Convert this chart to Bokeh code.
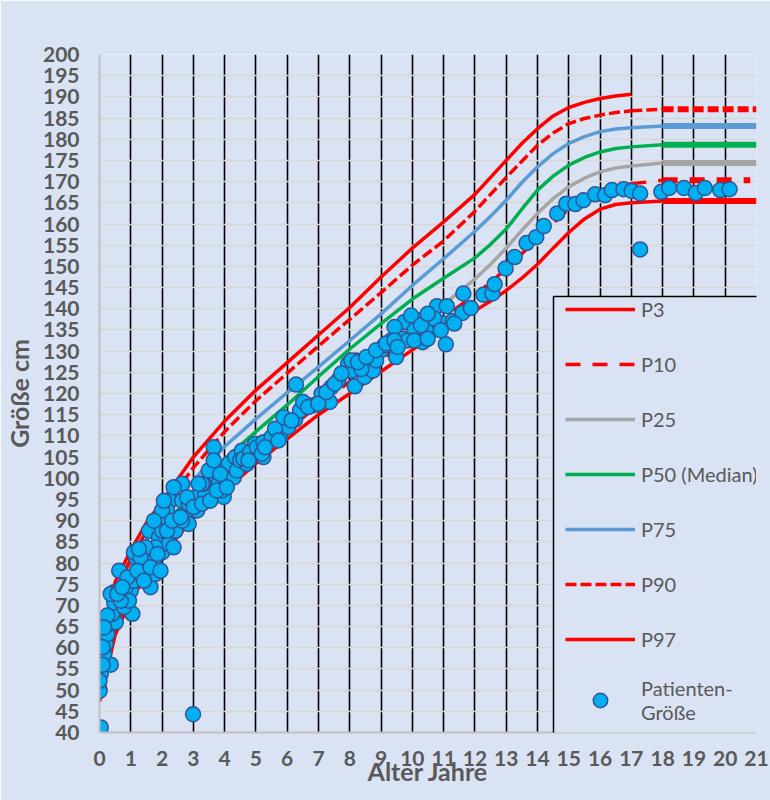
from bokeh.plotting import figure
from bokeh.models import Legend, LegendItem, FixedTicker, Range1d, BoxAnnotation
from bokeh.embed import file_html
from bokeh.resources import INLINE

# ---------------- data ----------------
ages = [0, 0.5, 1, 1.5, 2, 3, 4, 5, 6, 7, 8, 9, 10, 11, 12, 12.5, 13, 13.5, 14, 14.5, 15, 15.5, 16, 16.5, 17]
p3 = [47.3, 63.0, 71.3, 77.0, 82.0, 90.5, 97.0, 103.5, 109.3, 115.0, 120.0, 125.2, 130.3, 135.0, 139.5, 141.8, 144.3, 147.2, 150.5, 154.3, 158.0, 161.2, 163.5, 164.6, 165.0]
p10 = [48.7, 64.5, 73.0, 79.0, 84.0, 92.5, 99.3, 105.5, 111.3, 117.3, 122.8, 128.0, 133.2, 138.0, 143.3, 146.2, 149.5, 153.0, 156.5, 160.2, 163.5, 166.0, 167.8, 168.8, 169.5]
p25 = [50.0, 66.0, 75.0, 81.0, 86.0, 94.5, 101.5, 107.5, 113.5, 119.8, 125.5, 131.0, 136.3, 141.0, 147.0, 150.5, 154.3, 158.5, 162.5, 166.0, 168.8, 170.8, 172.3, 173.2, 173.7]
p50 = [51.5, 68.0, 77.0, 83.0, 88.0, 97.0, 104.5, 111.0, 117.3, 124.0, 130.5, 136.5, 142.3, 147.2, 152.0, 155.2, 158.8, 163.5, 168.0, 171.3, 173.9, 175.7, 177.0, 177.8, 178.2]
p75 = [53.0, 70.5, 79.0, 85.3, 90.5, 99.5, 107.5, 114.0, 120.2, 126.3, 132.5, 138.8, 145.5, 151.8, 158.3, 161.8, 165.6, 169.8, 173.5, 176.6, 179.0, 180.6, 181.8, 182.4, 182.7]
p90 = [54.5, 73.0, 81.0, 87.5, 92.5, 102.5, 111.0, 118.3, 124.8, 131.2, 137.5, 143.8, 150.3, 156.0, 163.0, 167.0, 171.0, 174.8, 178.6, 181.5, 183.7, 184.9, 185.7, 186.3, 186.7]
p97 = [56.0, 75.5, 83.0, 89.5, 94.5, 105.0, 113.5, 120.8, 127.3, 133.8, 140.3, 147.5, 154.3, 160.5, 167.0, 171.0, 175.0, 179.0, 182.5, 185.5, 187.5, 188.7, 189.6, 190.2, 190.6]

# adult values (18-21 years)
adult_ages = [18, 21]
adult_ages_p10 = [18, 20.8]
adult = {"P3": 165.4, "P10": 170.3, "P25": 174.4, "P50": 178.7, "P75": 183.1, "P90": 187.1}

pt_age = [0.04, 2.99, 0.0, 0.04, 0.1, 0.36, 0.15, 0.2, 0.25, 0.31, 0.52, 0.41, 0.25, 0.47, 0.47,
          0.63, 1.0, 1.05, 0.84, 1.1, 0.78, 0.94, 1.16, 1.1, 1.31, 1.47, 1.58, 1.63, 1.58, 1.74,
          1.79, 1.9, 2.0, 2.06, 2.21, 2.37, 2.27, 2.16, 2.43, 2.64, 2.8, 2.85, 3.12, 3.38, 3.65,
          3.6, 3.86, 4.13, 3.97, 4.29, 4.6, 4.87, 5.13, 3.12, 3.33, 2.64, 2.43, 2.0, 1.79, 1.47,
          1.31, 0.68, 0.89, 0.1, 0.0, 3.28, 3.49, 3.81, 4.13, 4.34, 4.55, 4.97, 2.85, 2.21, 2.0,
          2.64, 3.91,
          0.0, 0.1, 0.15, 0.36, 0.57, 0.73, 1.21, 1.42, 1.63, 1.85, 1.95, 2.16, 2.32, 2.59, 2.8,
          3.01, 3.28, 3.54, 3.75, 4.07, 4.39, 4.5, 4.71, 5.03, 5.24, 3.65, 3.86, 3.17, 2.37, 2.06,
          1.74, 1.26,
          6.28, 4.6, 4.81, 5.03, 5.24, 5.5, 5.77, 6.04, 6.25, 6.41, 6.51, 6.83, 7.1, 7.36, 7.41,
          7.63, 7.95, 8.16, 8.2, 8.47, 8.74, 8.69, 9.0, 9.27, 9.32, 9.48, 9.69, 9.75, 10.17,
          10.07, 10.33, 10.65, 10.97, 11.29, 11.6, 11.87, 10.79, 11.1, 11.07, 11.63, 5.19, 5.61,
          5.88, 8.05, 8.37, 8.84, 9.11, 9.85, 10.44, 10.7, 9.96, 9.43,
          4.76, 5.29, 5.72, 6.14, 6.67, 6.99, 7.25, 7.52, 7.73, 8.05, 8.26, 8.53, 8.84, 9.16,
          9.43, 9.53, 10.06, 10.49, 10.28, 10.91, 11.34, 10.49,
          12.27, 12.56, 12.63, 12.98, 13.27, 13.65, 13.96, 14.2, 14.63, 14.92, 15.21, 15.47,
          15.84, 16.16, 16.38, 16.75, 17.01, 17.28, 17.28, 17.96, 18.21, 18.68, 19.06, 19.35,
          19.84, 20.14]
pt_height = [41.2, 44.3, 50.2, 53.8, 56.1, 56.0, 58.5, 60.9, 63.2, 65.6, 66.0, 68.0, 67.6, 70.7, 73.1,
             78.2, 73.5, 68.0, 74.3, 75.8, 69.6, 71.1, 81.3, 82.5, 77.4, 79.8, 81.7, 74.3, 87.6, 80.6,
             77.4, 86.1, 82.5, 90.0, 84.5, 83.7, 94.7, 92.4, 90.0, 98.7, 92.4, 89.2, 95.6, 96.3, 107.3,
             99.1, 98.7, 103.4, 95.6, 100.2, 104.6, 105.8, 108.1, 92.4, 98.7, 94.7, 87.6, 87.6, 83.7, 83.7,
             81.3, 71.1, 76.6, 56.0, 49.8, 98.7, 101.8, 98.7, 103.4, 105.0, 106.5, 108.1, 94.0, 90.0, 92.4,
             90.0, 97.1,
             52.2, 60.1, 64.8, 72.7, 72.7, 74.3, 78.2, 75.8, 79.0, 82.1, 78.2, 87.6, 90.0, 90.8, 95.5,
             93.2, 94.0, 94.7, 97.1, 97.9, 101.8, 104.2, 103.4, 105.8, 105.0, 104.2, 101.0, 98.7, 97.9, 94.7,
             90.0, 83.3,
             122.1, 104.6, 106.1, 107.3, 108.5, 109.7, 109.7, 112.1, 113.8, 116.0, 118.0, 117.2, 119.9, 118.0, 121.5,
             123.1, 127.0, 121.7, 127.8, 123.9, 125.4, 128.6, 130.2, 131.4, 132.5, 128.6, 132.9, 136.9, 137.3,
             134.9, 132.1, 135.3, 136.5, 137.1, 139.0, 140.2, 140.6, 140.6, 131.6, 143.6, 105.8, 111.7,
             114.4, 125.4, 125.8, 127.8, 131.4, 132.5, 134.9, 137.7, 138.4, 135.7,
             104.2, 107.3, 108.9, 113.6, 116.8, 117.6, 120.3, 122.3, 124.7, 127.8, 127.4, 128.6, 130.2, 131.8,
             132.5, 131.0, 132.5, 132.9, 136.1, 134.9, 136.5, 138.8,
             143.3, 143.6, 145.8, 149.5, 152.2, 155.5, 156.9, 159.5, 162.5, 164.8, 164.7, 165.6,
             167.0, 166.8, 168.0, 168.2, 167.8, 167.2, 154.0, 167.6, 168.5, 168.5, 167.3, 168.5,
             168.0, 168.2]

x_ticks = list(range(0, 22))
y_ticks = list(range(40, 201, 5))

# ---------------- style ----------------
BG = "#dae3f3"
TXT = "#595959"
FONT = "Lato"
RED = "#ff0000"
GRAY = "#a5a5a5"
GREEN = "#00b050"
BLUE = "#5b9bd5"
LW = 3.5
LW_ADULT = 6

p = figure(width=770, height=800, x_range=Range1d(0, 21), y_range=Range1d(40, 200),
           output_backend="svg", toolbar_location=None,
           min_border_left=97, min_border_right=14, min_border_top=54, min_border_bottom=68,
           background_fill_color=BG, border_fill_color=BG, outline_line_color=None)

# grids
p.xgrid.ticker = FixedTicker(ticks=x_ticks[1:])
p.xgrid.grid_line_color = "black"
p.xgrid.grid_line_width = 1.6
p.ygrid.ticker = FixedTicker(ticks=y_ticks)
p.ygrid.grid_line_color = "#d6d6d6"
p.ygrid.grid_line_width = 1.6

# axes
for ax in (p.xaxis[0], p.yaxis[0]):
    ax.axis_line_color = "#bfbfbf"
    ax.axis_line_width = 2
    ax.major_tick_line_color = None
    ax.minor_tick_line_color = None
    ax.major_tick_out = 0
    ax.major_tick_in = 0
    ax.minor_tick_out = 0
    ax.major_label_text_font = FONT
    ax.major_label_text_font_style = "bold"
    ax.major_label_text_font_size = "21px"
    ax.major_label_text_color = TXT
    ax.axis_label_text_font = FONT
    ax.axis_label_text_font_style = "bold"
    ax.axis_label_text_color = TXT

p.xaxis.ticker = FixedTicker(ticks=x_ticks)
p.yaxis.ticker = FixedTicker(ticks=y_ticks)
p.yaxis.major_label_standoff = 20
p.xaxis.major_label_standoff = 18
p.yaxis.axis_label = "Größe cm"
p.yaxis.axis_label_text_font_size = "25px"
p.yaxis.axis_label_standoff = 6
p.xaxis.axis_label = "Alter Jahre"
p.xaxis.axis_label_text_font_size = "25px"
p.xaxis.axis_label_standoff = -13

# percentile curves
r3 = p.line(ages, p3, line_color=RED, line_width=LW)
r10 = p.line(ages, p10, line_color=RED, line_width=LW, line_dash="15 12")
r25 = p.line(ages, p25, line_color=GRAY, line_width=LW)
r50 = p.line(ages, p50, line_color=GREEN, line_width=LW)
r75 = p.line(ages, p75, line_color=BLUE, line_width=LW)
r90 = p.line(ages, p90, line_color=RED, line_width=LW, line_dash="11 4")
r97 = p.line(ages, p97, line_color=RED, line_width=LW)

# transition 17 -> 18 and adult segments 18 -> 21
curves = [("P3", p3, RED, "solid", adult_ages), ("P10", p10, RED, "15 12", adult_ages_p10),
          ("P25", p25, GRAY, "solid", adult_ages), ("P50", p50, GREEN, "solid", adult_ages),
          ("P75", p75, BLUE, "solid", adult_ages), ("P90", p90, RED, "11 4", adult_ages)]
for name, vals, col, dash, aa in curves:
    a = adult[name]
    p.line([ages[-1], aa[0]], [vals[-1], a], line_color=col, line_width=LW, line_dash=dash)
    p.line(aa, [a, a], line_color=col, line_width=LW_ADULT, line_dash=dash)

# patient points
rpts = p.scatter(pt_age, pt_height, marker="circle", size=15, fill_color="#00b0f0",
                 line_color="#2f5597", line_width=1.5)

# legend frame (canvas pixels)
box = BoxAnnotation(left=553, right=800, top=296, bottom=738,
                    left_units="canvas", right_units="canvas", top_units="canvas", bottom_units="canvas",
                    fill_color=BG, fill_alpha=1.0, line_color="black", line_width=1.5, line_alpha=1.0)
p.add_layout(box)

legend = Legend(items=[
    LegendItem(label="P3", renderers=[r3]),
    LegendItem(label="P10", renderers=[r10]),
    LegendItem(label="P25", renderers=[r25]),
    LegendItem(label="P50 (Median)", renderers=[r50]),
    LegendItem(label="P75", renderers=[r75]),
    LegendItem(label="P90", renderers=[r90]),
    LegendItem(label="P97", renderers=[r97]),
    LegendItem(label="Patienten-\nGröße", renderers=[rpts]),
], location=(466, 8))
legend.border_line_color = None
legend.background_fill_alpha = 0
legend.label_text_font = FONT
legend.label_text_font_size = "20px"
legend.label_text_color = TXT
legend.label_text_line_height = 1.4
legend.glyph_width = 70
legend.glyph_height = 36
legend.label_height = 24
legend.label_standoff = 6
legend.spacing = 19
legend.padding = 12
legend.margin = 0
p.add_layout(legend, "center")

open("out.html", "w").write(file_html(p, INLINE))
